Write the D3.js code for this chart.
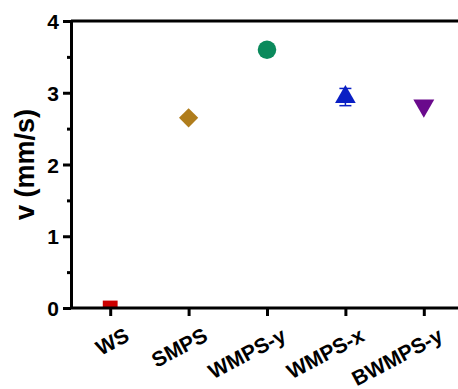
<!DOCTYPE html>
<html>
<head>
<meta charset="utf-8">
<script src="https://cdn.jsdelivr.net/npm/d3@7"></script>
<style>
  body { margin: 0; background: #fff; }
  svg text { font-family: "Liberation Sans", Arial, sans-serif; font-weight: bold; }
</style>
</head>
<body>
<div id="wrapper"></div>
<script>
const samples = ["WS", "SMPS", "WMPS-y", "WMPS-x", "BWMPS-y"]
const velocity = [0, 2.65, 3.6, 2.94, 2.82]
const velocityErr = [0, 0, 0, 0.12, 0]
const markerShapes = ["square", "diamond", "circle", "triangle", "triangleDown"]
const markerColors = ["#cc0000", "#b07d1c", "#0b8a5c", "#0a1fc4", "#6a0a8c"]
const yTicks = [0, 1, 2, 3, 4]

function drawChart() {
    let dimensions = {
        width: 458,
        height: 389,
        margin: { top: 21, right: -5, bottom: 81, left: 71 },
    }
    dimensions.boundedWidth = dimensions.width - dimensions.margin.left - dimensions.margin.right
    dimensions.boundedHeight = dimensions.height - dimensions.margin.top - dimensions.margin.bottom

    const wrapper = d3.select("#wrapper")
        .append("svg")
        .attr("width", dimensions.width)
        .attr("height", dimensions.height)

    const bounds = wrapper.append("g")
        .attr("transform", `translate(${dimensions.margin.left},${dimensions.margin.top})`)

    bounds.append("defs").append("clipPath")
        .attr("id", "plot-clip")
        .append("rect")
        .attr("width", dimensions.boundedWidth)
        .attr("height", dimensions.boundedHeight)

    // scales
    const xScale = d3.scalePoint()
        .domain(samples)
        .range([0, dimensions.boundedWidth])
        .padding(0.5)

    const yScale = d3.scaleLinear()
        .domain([0, 4])
        .range([dimensions.boundedHeight, 0])

    // frame top line
    bounds.append("line")
        .attr("x1", 0).attr("x2", dimensions.boundedWidth)
        .attr("y1", 0).attr("y2", 0)
        .attr("stroke", "#000").attr("stroke-width", 3)

    // markers
    const symbolTypes = {
        square: d3.symbolSquare,
        diamond: d3.symbolSquare,
        circle: d3.symbolCircle,
        triangle: d3.symbolTriangle,
        triangleDown: d3.symbolTriangle,
    }
    const symbolSizes = { square: 220, diamond: 185, circle: 270, triangle: 185, triangleDown: 190 }
    const symbolRotate = { square: null, diamond: "rotate(45)", circle: null, triangle: null, triangleDown: "rotate(180)" }

    const clip = bounds.append("g").attr("clip-path", "url(#plot-clip)")

    const points = clip.selectAll("g.point")
        .data(samples)
        .join("g")
        .attr("class", "point")
        .attr("transform", (d, i) => `translate(${xScale(d)},${yScale(velocity[i])})`)

    // error bars
    points.filter((d, i) => velocityErr[i] > 0)
        .each(function (d) {
            const i = samples.indexOf(d)
            const g = d3.select(this)
            const dy = yScale(0) - yScale(velocityErr[i])
            g.append("line").attr("y1", -dy).attr("y2", dy)
                .attr("stroke", markerColors[i]).attr("stroke-width", 1.5)
            g.append("line").attr("x1", -6).attr("x2", 6).attr("y1", dy).attr("y2", dy)
                .attr("stroke", markerColors[i]).attr("stroke-width", 1.5)
            g.append("line").attr("x1", -6).attr("x2", 6).attr("y1", -dy).attr("y2", -dy)
                .attr("stroke", markerColors[i]).attr("stroke-width", 1.5)
        })

    points.append("path")
        .attr("d", (d, i) => d3.symbol().type(symbolTypes[markerShapes[i]]).size(symbolSizes[markerShapes[i]])())
        .attr("transform", (d, i) => symbolRotate[markerShapes[i]])
        .attr("fill", (d, i) => markerColors[i])

    // y axis
    const yAxis = bounds.append("g")
        .call(d3.axisLeft(yScale).tickValues(yTicks).tickFormat(d3.format("d")).tickSize(8).tickSizeOuter(0))
    yAxis.select(".domain").attr("stroke-width", 3)
    yAxis.selectAll(".tick line").attr("stroke-width", 3)
    yAxis.selectAll(".tick text").attr("font-size", 21).attr("fill", "#000").attr("x", -12).attr("dy", "0.36em")

    const yMinor = bounds.append("g")
        .call(d3.axisLeft(yScale).tickValues([0.5, 1.5, 2.5, 3.5]).tickFormat("").tickSize(4).tickSizeOuter(0))
    yMinor.select(".domain").remove()
    yMinor.selectAll(".tick line").attr("stroke-width", 3)

    yAxis.append("text")
        .attr("transform", "rotate(-90)")
        .attr("x", -dimensions.boundedHeight / 2)
        .attr("y", -dimensions.margin.left + 34)
        .attr("text-anchor", "middle")
        .attr("font-size", 27)
        .attr("fill", "#000")
        .text("v (mm/s)")

    // x axis
    const xAxis = bounds.append("g")
        .attr("transform", `translate(0,${dimensions.boundedHeight})`)
        .call(d3.axisBottom(xScale).tickSize(8).tickSizeOuter(0))
    xAxis.select(".domain").attr("stroke-width", 3).attr("d", `M0,0H${dimensions.boundedWidth}`)
    xAxis.selectAll(".tick line").attr("stroke-width", 3)
    xAxis.selectAll(".tick text")
        .attr("font-size", 21)
        .attr("fill", "#000")
        .attr("text-anchor", "end")
        .attr("x", 0).attr("y", 0).attr("dy", 0)
        .attr("transform", "translate(20,32) rotate(-28)")
}

drawChart()
</script>
</body>
</html>
